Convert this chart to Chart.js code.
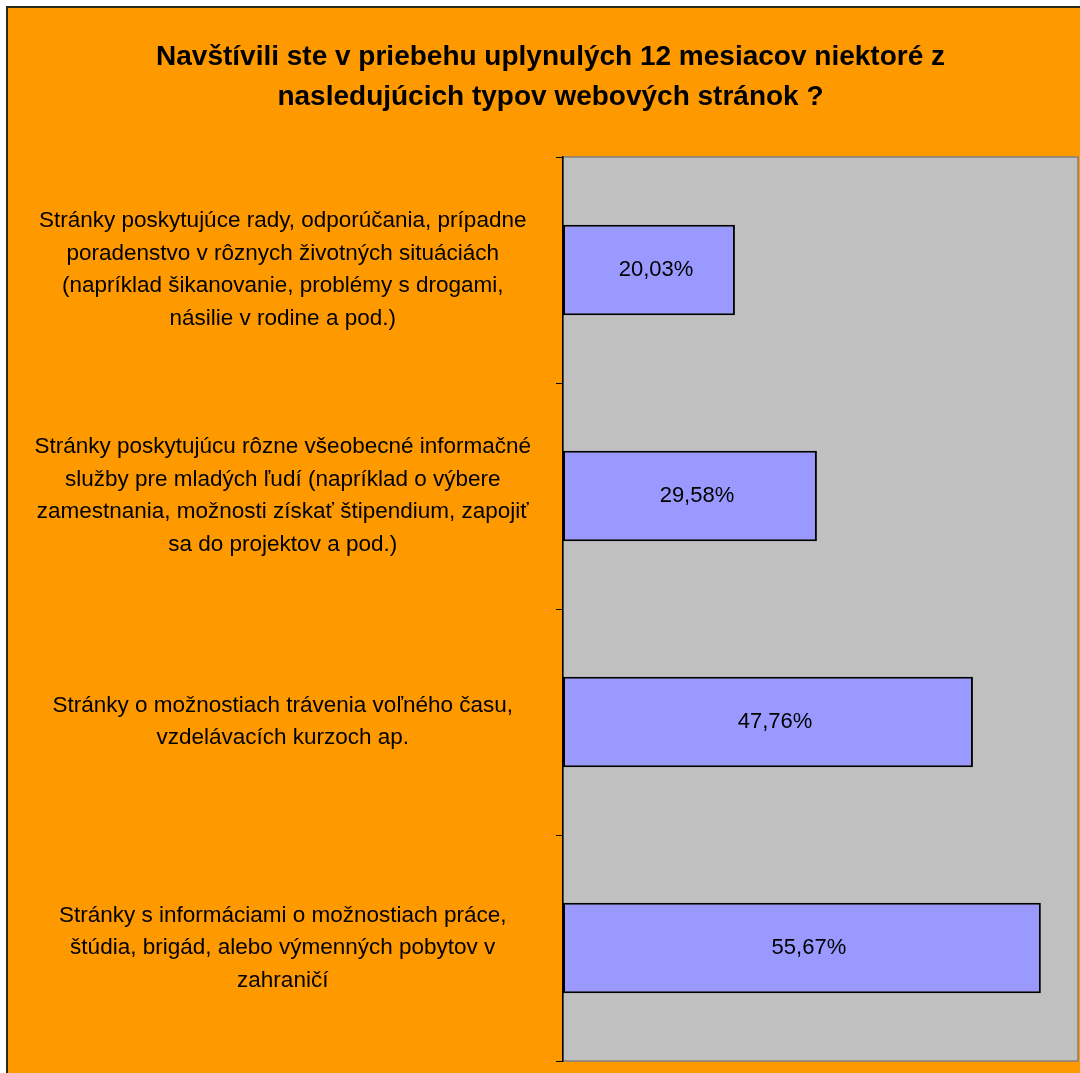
<!DOCTYPE html>
<html>
<head>
<meta charset="utf-8">
<script src="https://cdn.jsdelivr.net/npm/chart.js@4/dist/chart.umd.min.js"></script>
<style>
  html, body { margin: 0; padding: 0; background: #ffffff; }
  #wrap { position: absolute; left: 0; top: 0; width: 1080px; height: 1073px; }
</style>
</head>
<body>
<div id="wrap"><canvas id="c" width="1080" height="1073"></canvas></div>
<script>
const titleLines = [
  "Navštívili ste v priebehu uplynulých 12 mesiacov niektoré z",
  "nasledujúcich typov webových stránok ?"
];
const categories = [
  ["Stránky poskytujúce rady, odporúčania, prípadne",
   "poradenstvo v rôznych životných situáciách",
   "(napríklad šikanovanie, problémy s drogami,",
   "násilie v rodine a pod.)"],
  ["Stránky poskytujúcu rôzne všeobecné informačné",
   "služby pre mladých ľudí (napríklad o výbere",
   "zamestnania, možnosti získať štipendium, zapojiť",
   "sa do projektov a pod.)"],
  ["Stránky o možnostiach trávenia voľného času,",
   "vzdelávacích kurzoch ap."],
  ["Stránky s informáciami o možnostiach práce,",
   "štúdia, brigád, alebo výmenných pobytov v",
   "zahraničí"]
];
const values = [20.03, 29.58, 47.76, 55.67];
const axisMin = 0;
const axisMax = 60;

const FONT = "'Liberation Sans', Arial, sans-serif";

const bgPlugin = {
  id: 'bgPlugin',
  beforeDraw(chart) {
    const ctx = chart.ctx;
    const a = chart.chartArea;
    ctx.save();
    ctx.fillStyle = '#ffffff';
    ctx.fillRect(0, 0, chart.width, chart.height);
    ctx.fillStyle = '#FF9900';
    ctx.fillRect(7, 7, chart.width - 7, chart.height - 7);
    ctx.strokeStyle = '#2a2a1a';
    ctx.lineWidth = 2;
    ctx.beginPath();
    ctx.moveTo(7, chart.height);
    ctx.lineTo(7, 7);
    ctx.lineTo(chart.width, 7);
    ctx.stroke();
    ctx.fillStyle = '#C0C0C0';
    ctx.fillRect(a.left, a.top, a.right - a.left, a.bottom - a.top);
    ctx.strokeStyle = '#808080';
    ctx.lineWidth = 1.5;
    ctx.strokeRect(a.left, a.top, a.right - a.left, a.bottom - a.top);
    ctx.restore();
  }
};

const valueLabels = {
  id: 'valueLabels',
  afterDatasetsDraw(chart) {
    const ctx = chart.ctx;
    const meta = chart.getDatasetMeta(0);
    ctx.save();
    ctx.fillStyle = '#000000';
    ctx.font = "22px " + FONT;
    ctx.textAlign = 'center';
    ctx.textBaseline = 'middle';
    meta.data.forEach((bar, i) => {
      const v = chart.data.datasets[0].data[i];
      const txt = v.toFixed(2).replace('.', ',') + '%';
      ctx.fillText(txt, (bar.x + bar.base) / 2 + 7, bar.y);
    });
    ctx.restore();
  }
};

new Chart(document.getElementById('c'), {
  type: 'bar',
  data: {
    labels: categories,
    datasets: [{
      data: values,
      backgroundColor: '#9999FF',
      borderColor: '#000000',
      borderWidth: 2,
      borderSkipped: false,
      barPercentage: 0.4,
      categoryPercentage: 1.0
    }]
  },
  options: {
    indexAxis: 'y',
    responsive: false,
    animation: false,
    devicePixelRatio: 1,
    layout: { padding: { left: 23, right: 2, top: 0, bottom: 12 } },
    plugins: {
      legend: { display: false },
      tooltip: { enabled: false },
      title: {
        display: true,
        text: titleLines,
        color: '#000000',
        font: { family: FONT, size: 28, weight: 'bold', lineHeight: 40 / 28 },
        padding: { top: 37, bottom: 40 }
      }
    },
    scales: {
      x: {
        display: false,
        min: axisMin,
        max: axisMax
      },
      y: {
        afterFit(scale) {
          scale.width = 540;
          scale.paddingTop = 0;
          scale.paddingBottom = 0;
        },
        grid: {
          offset: true,
          drawOnChartArea: false,
          drawTicks: true,
          tickLength: 7,
          color: '#000000',
          lineWidth: 1
        },
        border: { display: true, color: '#000000', width: 1.5 },
        ticks: {
          crossAlign: 'center',
          padding: 25,
          color: '#000000',
          font: { family: FONT, size: 22.5, lineHeight: 32.5 / 22.5 }
        }
      }
    }
  },
  plugins: [bgPlugin, valueLabels]
});
</script>
</body>
</html>
